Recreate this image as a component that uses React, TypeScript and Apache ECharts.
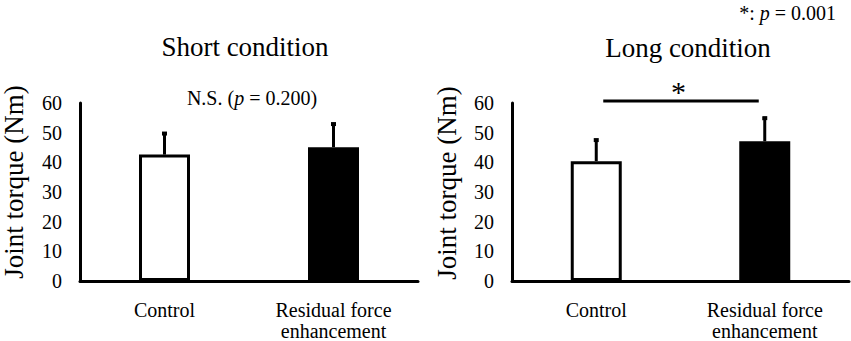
import React, { useEffect, useRef } from "react";
import * as echarts from "echarts";

const categories = ["Control", "Residual force\nenhancement"];
const shortMeans = [42.6, 45.1];
const shortSD = [7.1, 7.8];
const longMeans = [40.4, 47.1];
const longSD = [7.1, 7.8];
const barColors = ["#ffffff", "#000000"];
const sigLevel = [60.7];
const yTitle = "Joint torque (Nm)";

const FONT = "Liberation Serif";

function errRender(params: any, api: any) {
  const x = api.value(0);
  const m = api.value(1);
  const s = api.value(2);
  const base = api.coord([x, m]);
  const top = api.coord([x, m + s]);
  return {
    type: "group",
    children: [
      { type: "line", shape: { x1: base[0], y1: base[1], x2: top[0], y2: top[1] }, style: { stroke: "#000", lineWidth: 3 } },
      { type: "rect", shape: { x: top[0] - 2.5, y: top[1] - 2, width: 5, height: 4 }, style: { fill: "#000" } },
    ],
  };
}

function sigRender(params: any, api: any) {
  const lv = api.value(0);
  const a = api.coord([0, lv]);
  const b = api.coord([1, lv]);
  return {
    type: "group",
    children: [
      { type: "line", shape: { x1: a[0] + 7, y1: a[1], x2: b[0] - 6, y2: b[1] }, style: { stroke: "#000", lineWidth: 3 } },
      { type: "text", x: (a[0] + b[0]) / 2 - 2, y: a[1] + 6, style: { text: "*", fontSize: 30, fontFamily: FONT, fill: "#000", align: "center", verticalAlign: "bottom" } },
    ],
  };
}

export default function App() {
  const ref = useRef<HTMLDivElement>(null);
  useEffect(() => {
    const chart = echarts.init(ref.current!, null, { renderer: "svg" });
    const xAxisBase = (gi: number) => ({
      type: "category",
      gridIndex: gi,
      data: categories,
      axisLine: { lineStyle: { color: "#000", width: 3 } },
      axisTick: { show: false },
      axisLabel: { color: "#000", fontSize: 20, fontFamily: FONT, margin: 18, lineHeight: 21 },
    });
    const yAxisBase = (gi: number) => ({
      type: "value",
      gridIndex: gi,
      min: 0,
      max: 60,
      interval: 10,
      axisLine: { show: true, lineStyle: { color: "#000", width: 3 } },
      axisTick: { show: false },
      splitLine: { show: false },
      axisLabel: { color: "#000", fontSize: 20, fontFamily: FONT, margin: 18 },
    });
    const barSeries = (gi: number, vals: number[]) => ({
      type: "bar",
      xAxisIndex: gi,
      yAxisIndex: gi,
      barWidth: 51,
      data: vals.map((v, i) => ({ value: v, itemStyle: { color: barColors[i], borderColor: "#000", borderWidth: 3 } })),
    });
    const errSeries = (gi: number, m: number[], s: number[]) => ({
      type: "custom",
      xAxisIndex: gi,
      yAxisIndex: gi,
      renderItem: errRender,
      encode: { x: 0, y: 1 },
      data: m.map((v, i) => [i, v, s[i]]),
      z: 5,
    });
    const rich = {
      r: { fontSize: 20, fontFamily: FONT, fill: "#000" },
      i: { fontSize: 20, fontFamily: FONT, fontStyle: "italic", fill: "#000" },
    };
    chart.setOption({
      animation: false,
      textStyle: { fontFamily: FONT },
      grid: [
        { left: 80, width: 338, top: 103, height: 179 },
        { left: 512, width: 337, top: 103, height: 179 },
      ],
      xAxis: [xAxisBase(0), xAxisBase(1)],
      yAxis: [yAxisBase(0), yAxisBase(1)],
      series: [
        barSeries(0, shortMeans),
        errSeries(0, shortMeans, shortSD),
        barSeries(1, longMeans),
        errSeries(1, longMeans, longSD),
        {
          type: "custom",
          xAxisIndex: 1,
          yAxisIndex: 1,
          renderItem: sigRender,
          encode: { y: 0 },
          data: sigLevel.map((v) => [v]),
          clip: false,
          z: 5,
        },
      ],
      graphic: [
        { type: "text", x: 245, y: 47, style: { text: "Short condition", fontSize: 27, fontFamily: FONT, fill: "#000", align: "center", verticalAlign: "middle" } },
        { type: "text", x: 688, y: 48, style: { text: "Long condition", fontSize: 27, fontFamily: FONT, fill: "#000", align: "center", verticalAlign: "middle" } },
        { type: "text", x: 14, y: 182, rotation: Math.PI / 2, style: { text: yTitle, fontSize: 27, fontFamily: FONT, fill: "#000", align: "center", verticalAlign: "middle" } },
        { type: "text", x: 447, y: 183, rotation: Math.PI / 2, style: { text: yTitle, fontSize: 27, fontFamily: FONT, fill: "#000", align: "center", verticalAlign: "middle" } },
        {
          type: "text",
          x: 252,
          y: 98,
          style: { text: "{r|N.S. (}{i|p}{r| = 0.200)}", align: "center", verticalAlign: "middle", rich },
        },
        {
          type: "text",
          x: 836,
          y: 13,
          style: { text: "{r|*: }{i|p}{r| = 0.001}", align: "right", verticalAlign: "middle", rich },
        },
      ],
    });
    return () => chart.dispose();
  }, []);
  return <div ref={ref} style={{ position: "fixed", left: 0, top: 0, width: 851, height: 341, background: "#fff" }} />;
}
